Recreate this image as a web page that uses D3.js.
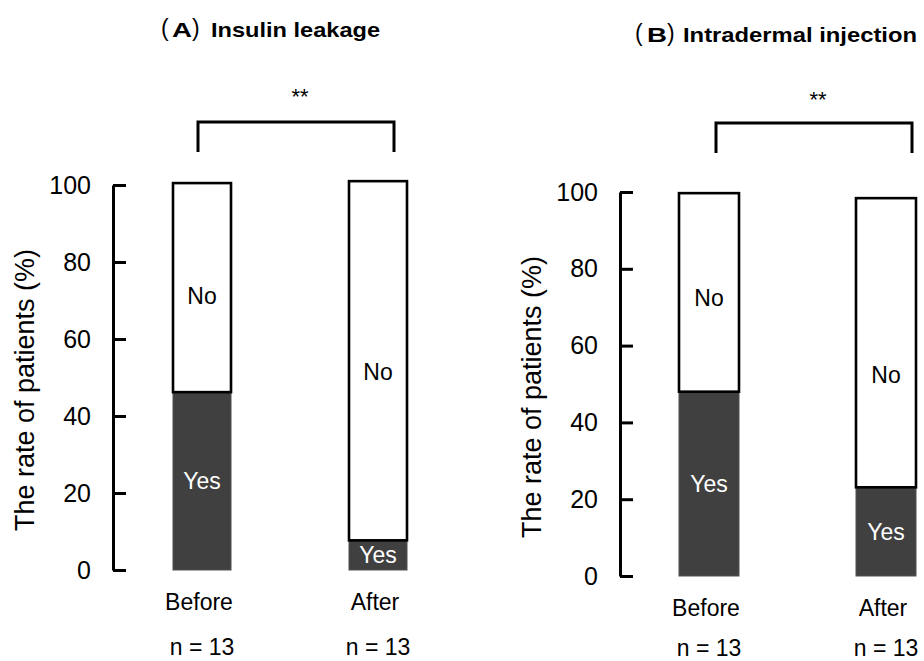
<!DOCTYPE html>
<html><head><meta charset="utf-8">
<script src="https://cdn.jsdelivr.net/npm/d3@7"></script>
<style>
body{margin:0;background:#fff}
svg{display:block}
text{font-family:"Liberation Sans",Arial,Helvetica,sans-serif;fill:#000}
</style>
</head><body>
<svg id="chart" width="924" height="661"></svg>
<script>
// ---- data ----
const categories = ["Before", "After"];
const sampleSizes = ["n = 13", "n = 13"];
const segmentKeys = ["Yes", "No"];
const leakageYes = [46.2, 7.7];
const leakageNo = [54.3, 93.3];
const injectionYes = [48.0, 23.1];
const injectionNo = [51.7, 75.3];
const tickValues = [0, 20, 40, 60, 80, 100];
const panelLetters = ["A", "B"];
const panelTitles = ["Insulin leakage", "Intradermal injection"];
const significance = ["**", "**"];
const yAxisTitle = "The rate of patients (%)";

// ---- layout ----
const panels = [
  {yes: leakageYes, no: leakageNo, axisX: 113, yRange: [570, 185], xRange: [202, 378], barW: 58,
   ylabX: 25, ylabY: 390, catY: 610, nY: 655, noFrac: [0.46, 0.47],
   title: {paren1: 161, letter: 172, paren2: 192, text: 211, textLen: 169, y: 37},
   bracket: {x0: 198, x1: 394, top: 122, bottom: 152, starX: 300, starY: 104}},
  {yes: injectionYes, no: injectionNo, axisX: 620, yRange: [576, 192], xRange: [709, 886], barW: 60,
   ylabX: 532, ylabY: 397, catY: 616, nY: 656, noFrac: [0.47, 0.39],
   title: {paren1: 635, letter: 647, paren2: 667, text: 683, textLen: 234, y: 42},
   bracket: {x0: 716, x1: 912, top: 123, bottom: 153, starX: 818, starY: 107}}
];

const svg = d3.select("#chart");
svg.append("rect").attr("width", 924).attr("height", 661).attr("fill", "#fff");

panels.forEach((p, i) => {
  const g = svg.append("g");
  const y = d3.scaleLinear().domain([0, 100]).range(p.yRange);
  const x = d3.scalePoint().domain(categories).range(p.xRange);

  // axis
  const axis = d3.axisLeft(y).tickValues(tickValues).tickSizeInner(-13).tickSizeOuter(0).tickPadding(22);
  const ag = g.append("g").attr("transform", `translate(${p.axisX},0)`).call(axis);
  ag.select(".domain").attr("stroke", "#000").attr("stroke-width", 3);
  ag.selectAll(".tick line").attr("stroke", "#000").attr("stroke-width", 3);
  ag.selectAll(".tick text").attr("font-size", 25).attr("fill", "#000")
    .attr("font-family", "Liberation Sans, Arial, sans-serif");

  // y title
  g.append("text").attr("transform", `translate(${p.ylabX},${p.ylabY}) rotate(-90)`)
    .attr("text-anchor", "middle").attr("dy", "0.35em").attr("font-size", 27).text(yAxisTitle);

  // stacked bars
  const rows = categories.map((c, j) => ({cat: c, Yes: p.yes[j], No: p.no[j]}));
  const stacked = d3.stack().keys(segmentKeys)(rows);
  const yesS = stacked[0], noS = stacked[1];

  g.selectAll(".yes").data(yesS).join("rect")
    .attr("x", d => x(d.data.cat) - p.barW / 2).attr("width", p.barW)
    .attr("y", d => y(d[1])).attr("height", d => y(d[0]) - y(d[1]))
    .attr("fill", "#404040").attr("stroke", "#505050").attr("stroke-width", 1);
  g.selectAll(".no").data(noS).join("rect")
    .attr("x", d => x(d.data.cat) - p.barW / 2).attr("width", p.barW)
    .attr("y", d => y(d[1])).attr("height", d => y(d[0]) - y(d[1]))
    .attr("fill", "#fff").attr("stroke", "#000").attr("stroke-width", 2.6);

  g.selectAll(".yeslab").data(yesS).join("text")
    .attr("x", d => x(d.data.cat)).attr("y", d => y((d[0] + d[1]) / 2))
    .attr("dy", "0.35em").attr("text-anchor", "middle").attr("font-size", 23)
    .style("fill", "#fff").text("Yes");
  g.selectAll(".nolab").data(noS).join("text")
    .attr("x", d => x(d.data.cat)).attr("y", (d, j) => y(d[0] + (d[1] - d[0]) * p.noFrac[j]))
    .attr("dy", "0.35em").attr("text-anchor", "middle").attr("font-size", 23).text("No");

  // category labels
  g.selectAll(".cat").data(categories).join("text")
    .attr("x", d => x(d) - 3).attr("y", p.catY).attr("text-anchor", "middle").attr("font-size", 23).text(d => d);
  g.selectAll(".n").data(sampleSizes).join("text")
    .attr("x", (d, j) => x(categories[j])).attr("y", p.nY).attr("text-anchor", "middle").attr("font-size", 23).text(d => d);

  // title
  const t = p.title;
  g.append("text").attr("x", t.paren1).attr("y", t.y - 1).attr("font-size", 23).text("(");
  g.append("text").attr("x", t.letter).attr("y", t.y).attr("font-size", 21).attr("font-weight", "bold")
    .attr("textLength", 20).attr("lengthAdjust", "spacingAndGlyphs").text(panelLetters[i]);
  g.append("text").attr("x", t.paren2).attr("y", t.y - 1).attr("font-size", 23).text(")");
  g.append("text").attr("x", t.text).attr("y", t.y).attr("font-size", 21).attr("font-weight", "bold")
    .attr("textLength", t.textLen).attr("lengthAdjust", "spacingAndGlyphs").text(panelTitles[i]);

  // significance bracket
  const b = p.bracket;
  g.append("path").attr("d", `M${b.x0},${b.bottom}V${b.top}H${b.x1}V${b.bottom}`)
    .attr("fill", "none").attr("stroke", "#000").attr("stroke-width", 3);
  g.append("text").attr("x", b.starX).attr("y", b.starY).attr("text-anchor", "middle").attr("font-size", 22).text(significance[i]);
});
</script>
</body></html>
